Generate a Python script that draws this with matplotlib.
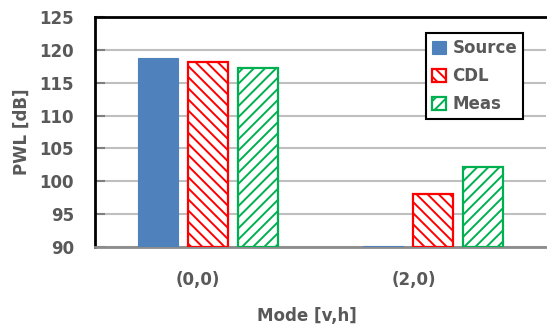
import numpy as np
import matplotlib.pyplot as plt

modes = ['(0,0)', '(2,0)']
series = ['Source', 'CDL', 'Meas']
source = [118.8, 90.1]
cdl = [118.2, 98.0]
meas = [117.2, 102.1]

base = 90
text_c = '#595959'
plt.rcParams['font.family'] = 'DejaVu Sans'
plt.rcParams['hatch.linewidth'] = 1.4

fig = plt.figure(figsize=(5.47, 3.26), dpi=100)
ax = fig.add_axes([0.1737, 0.2423, 0.8245, 0.7056])

x = np.arange(len(modes))
w = 0.177
step = 0.222

styles = [
    dict(color='#4F81BD', edgecolor='#4F81BD', linewidth=0.8),
    dict(color='white', edgecolor='#FF0000', hatch='\\\\\\', linewidth=1.6),
    dict(color='white', edgecolor='#00B050', hatch='///', linewidth=1.6),
]
for i, (name, vals) in enumerate(zip(series, [source, cdl, meas])):
    heights = np.array(vals) - base
    ax.bar(x + (i - 1) * step, heights, w, bottom=base, label=name,
           zorder=3, **styles[i])

ax.set_xlim(-0.5, 1.5)
ax.set_ylim(90, 125)
ax.set_yticks(np.arange(90, 126, 5))
# category labels sit a little left of the bar groups
ax.set_xticks(x + np.array([-0.045, -0.085]))
ax.set_xticklabels(modes)
ax.yaxis.grid(True, color='#BFBFBF', linewidth=1.5, zorder=0)
ax.set_axisbelow(True)

for s in ['top', 'left']:
    ax.spines[s].set_linewidth(2)
    ax.spines[s].set_color('black')
ax.spines['right'].set_visible(False)
ax.spines['bottom'].set_color('#8C8C8C')
ax.spines['bottom'].set_linewidth(2)

ax.tick_params(axis='y', direction='in', length=7, width=1.5, color='#7F7F7F',
               pad=15, labelsize=12, labelcolor=text_c)
ax.tick_params(axis='x', length=0, pad=17, labelsize=12, labelcolor=text_c)
for lbl in ax.get_xticklabels() + ax.get_yticklabels():
    lbl.set_fontweight('bold')

ax.set_xlabel('Mode [v,h]', fontsize=12, fontweight='bold', color=text_c)
ax.xaxis.set_label_coords(0.47, -0.26)
ax.set_ylabel('PWL [dB]', fontsize=12, fontweight='bold', color=text_c, labelpad=6)

leg = ax.legend(loc='upper right', bbox_to_anchor=(0.949, 0.930), borderaxespad=0,
                fancybox=False, edgecolor='black', framealpha=1,
                handlelength=0.8, handleheight=0.8, handletextpad=0.4,
                borderpad=0.36, labelspacing=0.6,
                prop={'weight': 'bold', 'size': 12})
leg.get_frame().set_linewidth(1.5)
for t in leg.get_texts():
    t.set_color(text_c)

fig.savefig('out.png', dpi=100)
